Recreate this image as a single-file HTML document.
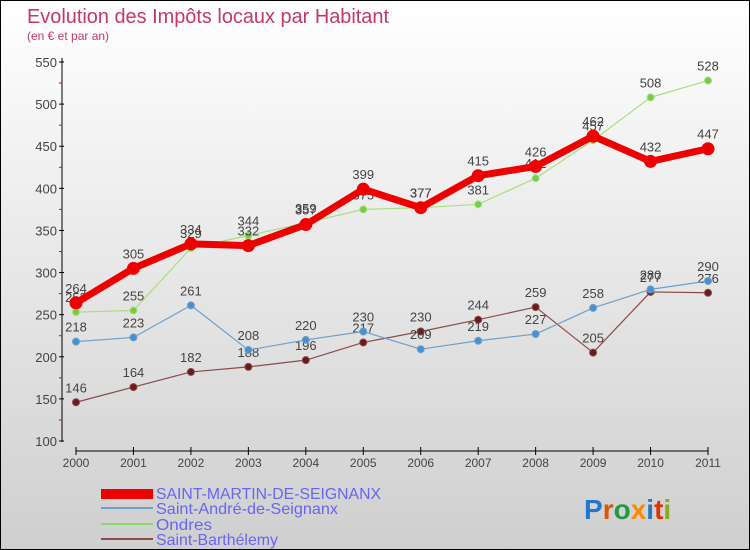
<!DOCTYPE html>
<html><head><meta charset="utf-8"><style>
body{margin:0}
#c{width:748px;height:548px;border:1px solid #000;background:linear-gradient(#ffffff,#cfcfcf);position:relative;font-family:"Liberation Sans",sans-serif;overflow:hidden}
</style></head><body>
<div id="c">
<svg id="s" width="748" height="548" xmlns="http://www.w3.org/2000/svg" style="position:absolute;left:0;top:0">
<text x="26" y="22" font-size="20" fill="#c23a62" textLength="362" lengthAdjust="spacingAndGlyphs">Evolution des Impôts locaux par Habitant</text>
<text x="26" y="39" font-size="12" fill="#c23a62">(en € et par an)</text>
<g id="axes"></g><g id="series"></g>
<g>
<rect x="100" y="488" width="52" height="10" fill="#ee0000"/>
<text x="155" y="498" font-size="16" fill="#6666ee" textLength="225" lengthAdjust="spacingAndGlyphs">SAINT-MARTIN-DE-SEIGNANX</text>
<rect x="100" y="506" width="52" height="2" fill="#6fa0c8"/>
<text x="155" y="513" font-size="16" fill="#6666ee" textLength="182" lengthAdjust="spacingAndGlyphs">Saint-André-de-Seignanx</text>
<rect x="100" y="522" width="52" height="2" fill="#88dd66"/>
<text x="155" y="529" font-size="16" fill="#6666ee" textLength="56" lengthAdjust="spacingAndGlyphs">Ondres</text>
<rect x="100" y="537" width="52" height="2" fill="#8b4a4a"/>
<text x="155" y="544" font-size="16" fill="#6666ee" textLength="122" lengthAdjust="spacingAndGlyphs">Saint-Barthélemy</text>
</g>
<text x="583" y="518" font-size="28" font-weight="bold"><tspan fill="#2277cc">P</tspan><tspan fill="#dd5500">r</tspan><tspan fill="#229944">o</tspan><tspan fill="#ff8800">x</tspan><tspan fill="#2277cc">i</tspan><tspan fill="#dd3300">t</tspan><tspan fill="#88aa22">i</tspan></text>
</svg>
</div>
<script>
const years=["2000","2001","2002","2003","2004","2005","2006","2007","2008","2009","2010","2011"];
const yTicks=[100,150,200,250,300,350,400,450,500,550];
const stMartin=[264,305,334,332,357,399,377,415,426,462,432,447];
const stAndre=[218,223,261,208,220,230,209,219,227,258,280,290];
const ondres=[253,255,329,344,359,375,377,381,412,457,508,528];
const stBarth=[146,164,182,188,196,217,230,244,259,205,277,276];
const NS="http://www.w3.org/2000/svg";
const X=i=>75+i*(707-75)/11;
const Y=v=>440-(v-100)*(440-61)/450;
function mk(t,a,p){const e=document.createElementNS(NS,t);for(const k in a)e.setAttribute(k,a[k]);p.appendChild(e);return e;}
const ax=document.getElementById('axes');
let l=mk('line',{x1:61,y1:57,x2:61,y2:441,stroke:'#000','stroke-width':1},ax);


yTicks.forEach(v=>{
 mk('line',{x1:58,x2:63,y1:Y(v),y2:Y(v),stroke:'#000'},ax);
 if(v<550) mk('line',{x1:58,x2:61,y1:Y(v+25),y2:Y(v+25),stroke:'#e00'},ax);
 const t=mk('text',{x:56,y:Y(v)+5,'font-size':13,fill:'#444','text-anchor':'end'},ax);t.textContent=v;
 
 
});
l=mk('line',{x1:75,y1:450,x2:707,y2:450,stroke:'#000','stroke-width':1},ax);


years.forEach((y,i)=>{
 mk('line',{x1:X(i),x2:X(i),y1:446,y2:454,stroke:'#000'},ax);
 const t=mk('text',{x:X(i),y:466,'font-size':12,fill:'#444','text-anchor':'middle'},ax);t.textContent=y;
 
 
});
const sg=document.getElementById('series');
function draw(data,name,color,w,r,dot){
 const g=mk('g',{},sg);
 
 
 const p=mk('polyline',{points:data.map((v,i)=>X(i)+','+Y(v)).join(' '),fill:'none',stroke:color,'stroke-width':w,'stroke-linejoin':'round'},g);
 
 
 data.forEach((v,i)=>{
  const c=mk('circle',{cx:X(i),cy:Y(v),r:r,fill:dot,stroke:color,'stroke-width':1},g);
  
  
  const t=mk('text',{x:X(i),y:Y(v)-10,'font-size':13,fill:'#444','text-anchor':'middle'},g);t.textContent=v;
  
  
 });
}
draw(stBarth,'saint-barthelemy','#8b4a4a',1.2,3.5,'#6a1a1a');
draw(stAndre,'saint-andre','#6fa0c8',1.2,3.5,'#4a90d0');
draw(ondres,'ondres','#a8e080',1.2,3.5,'#77cc44');
draw(stMartin,'saint-martin','#ee0000',7,6,'#ee0000');
</script>
</body></html>
